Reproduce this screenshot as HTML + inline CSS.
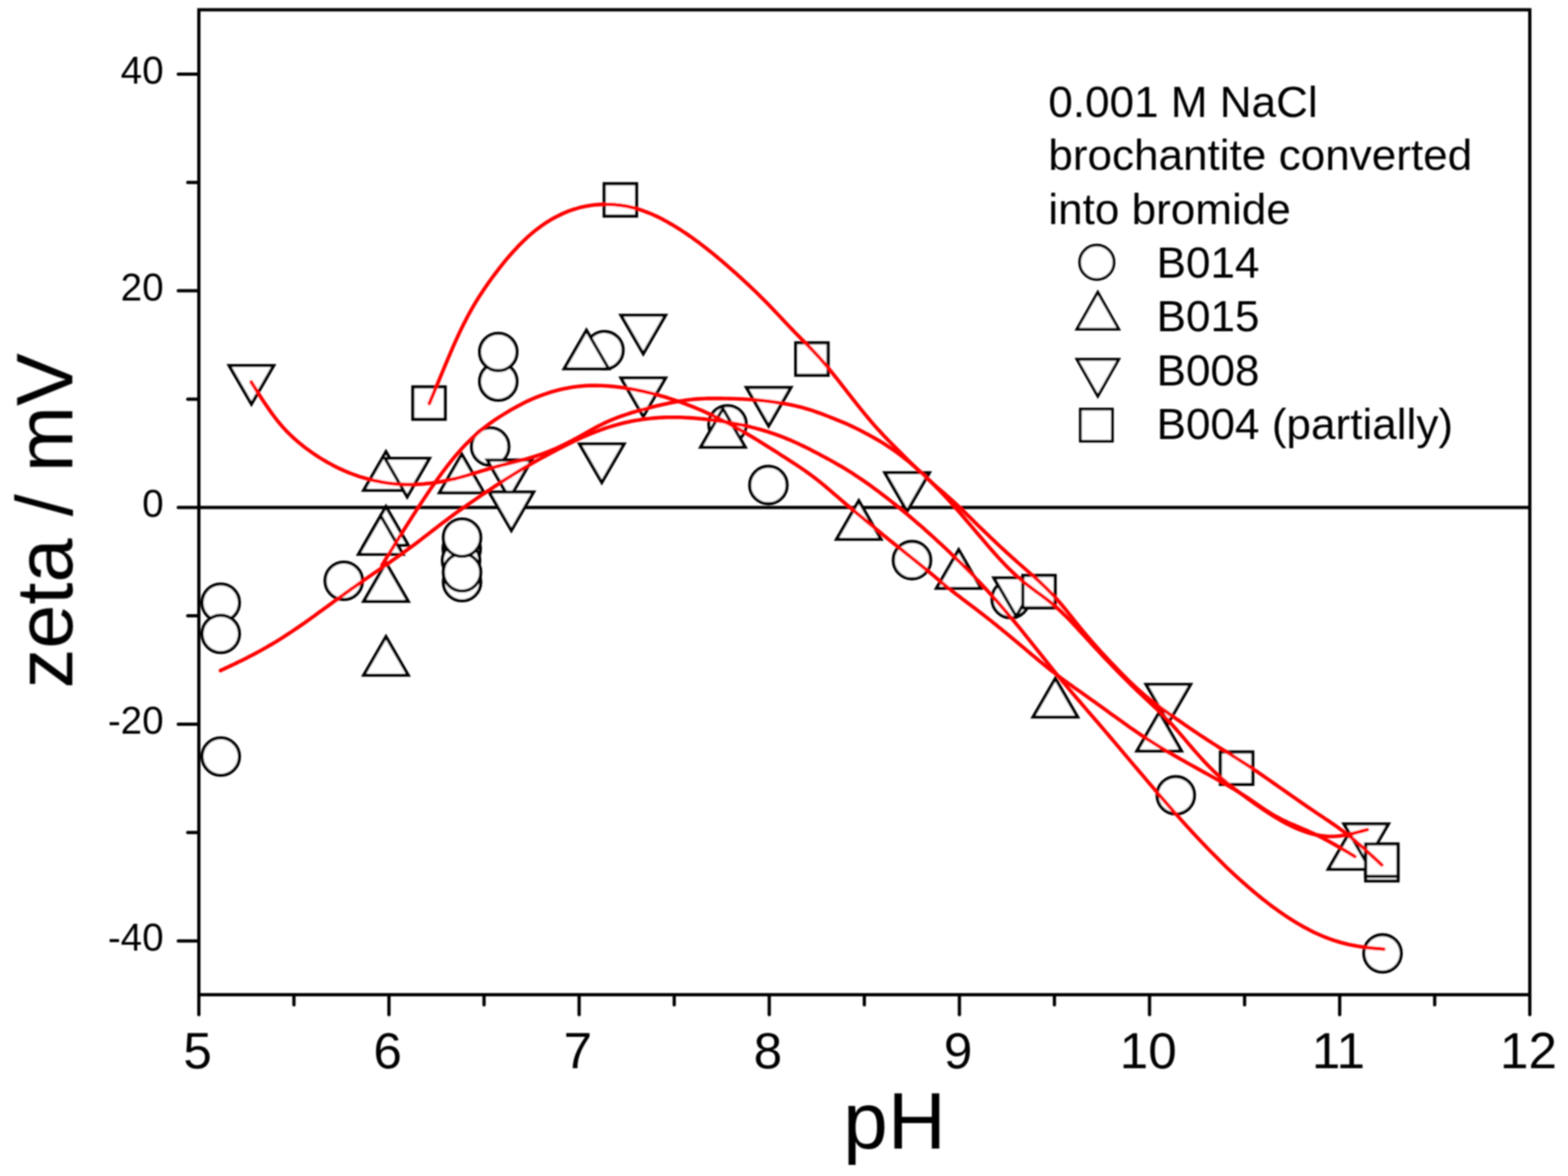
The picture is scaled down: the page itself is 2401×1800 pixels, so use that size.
<!DOCTYPE html>
<html><head><meta charset="utf-8"><title>zeta potential vs pH</title>
<style>html,body{margin:0;padding:0;background:#fff;}body{width:2401px;height:1800px;overflow:hidden;}svg{display:block;}text{font-family:"Liberation Sans",Arial,sans-serif;fill:#000;}</style></head><body>
<svg width="2401" height="1800" viewBox="0 0 2401 1800">
<defs><filter id="soft" x="0" y="0" width="2401" height="1800" filterUnits="userSpaceOnUse"><feGaussianBlur stdDeviation="1"/></filter></defs>
<rect x="0" y="0" width="2401" height="1800" fill="#fff"/>
<g filter="url(#soft)">
<line x1="304.5" y1="776.8" x2="2342.5" y2="776.8" stroke="#000" stroke-width="5"/>
<g fill="#fff" stroke="#000" stroke-width="4.9" stroke-linejoin="miter">
<circle cx="338" cy="922.5" r="28.6"/>
<circle cx="338" cy="970.3" r="28.6"/>
<circle cx="338" cy="1158" r="28.6"/>
<circle cx="526.4" cy="889" r="28.6"/>
<circle cx="707" cy="840" r="28.6"/>
<circle cx="706" cy="858" r="28.6"/>
<circle cx="707.5" cy="891" r="28.6"/>
<circle cx="707.5" cy="876" r="28.6"/>
<circle cx="707.5" cy="823" r="28.6"/>
<circle cx="750.6" cy="683.5" r="28.6"/>
<circle cx="763" cy="584" r="28.6"/>
<circle cx="763" cy="538.7" r="28.6"/>
<circle cx="925.5" cy="536" r="28.6"/>
<circle cx="1114" cy="649.5" r="28.6"/>
<circle cx="1176.6" cy="742.4" r="28.6"/>
<circle cx="1396.5" cy="857.4" r="28.6"/>
<circle cx="1547.6" cy="917" r="28.6"/>
<circle cx="1800.4" cy="1217.3" r="28.6"/>
<circle cx="2117" cy="1459.3" r="28.6"/>
<path d="M591.0,691.6 L625.0,750.4 L557.0,750.4 Z"/>
<path d="M591.0,775.6 L625.0,834.4 L557.0,834.4 Z"/>
<path d="M583.0,789.6 L617.0,848.4 L549.0,848.4 Z"/>
<path d="M591.0,861.6 L625.0,920.4 L557.0,920.4 Z"/>
<path d="M591.0,974.6 L625.0,1033.4 L557.0,1033.4 Z"/>
<path d="M707.0,695.3 L741.0,754.1 L673.0,754.1 Z"/>
<path d="M898.0,505.6 L932.0,564.4 L864.0,564.4 Z"/>
<path d="M1107.0,625.6 L1141.0,684.4 L1073.0,684.4 Z"/>
<path d="M1315.0,766.6 L1349.0,825.4 L1281.0,825.4 Z"/>
<path d="M1468.0,841.6 L1502.0,900.4 L1434.0,900.4 Z"/>
<path d="M1616.0,1038.6 L1650.0,1097.4 L1582.0,1097.4 Z"/>
<path d="M1775.0,1090.6 L1809.0,1149.4 L1741.0,1149.4 Z"/>
<path d="M2068.0,1271.6 L2102.0,1330.4 L2034.0,1330.4 Z"/>
<path d="M351.0,559.6 L419.0,559.6 L385.0,618.4 Z"/>
<path d="M589.5,701.6 L657.5,701.6 L623.5,760.4 Z"/>
<path d="M746.0,704.1 L814.0,704.1 L780.0,762.9 Z"/>
<path d="M749.0,753.1 L817.0,753.1 L783.0,811.9 Z"/>
<path d="M887.5,679.6 L955.5,679.6 L921.5,738.4 Z"/>
<path d="M951.0,482.6 L1019.0,482.6 L985.0,541.4 Z"/>
<path d="M951.0,578.6 L1019.0,578.6 L985.0,637.4 Z"/>
<path d="M1143.0,593.1 L1211.0,593.1 L1177.0,651.9 Z"/>
<path d="M1355.0,723.6 L1423.0,723.6 L1389.0,782.4 Z"/>
<path d="M1522.0,884.6 L1590.0,884.6 L1556.0,943.4 Z"/>
<path d="M1755.0,1047.6 L1823.0,1047.6 L1789.0,1106.4 Z"/>
<path d="M2058.0,1261.1 L2126.0,1261.1 L2092.0,1319.9 Z"/>
<rect x="632.2" y="592.2" width="49.5" height="49.5"/>
<rect x="925.2" y="281.2" width="49.5" height="49.5"/>
<rect x="1218.5" y="524.8" width="49.5" height="49.5"/>
<rect x="1566.2" y="880.8" width="49.5" height="49.5"/>
<rect x="1868.8" y="1151.0" width="49.5" height="49.5"/>
<rect x="2091.2" y="1298.8" width="49.5" height="49.5"/>
<rect x="2091.2" y="1291.8" width="49.5" height="49.5"/>
</g>
<g fill="none" stroke="#ff0000" stroke-width="5.6" stroke-linecap="round" stroke-linejoin="round">
<path d="M337.6,1026.4 L341.6,1024.5 L345.6,1022.6 L349.6,1020.8 L353.6,1018.9 L357.6,1017.0 L361.6,1015.1 L365.6,1013.1 L369.6,1011.2 L373.6,1009.2 L377.6,1007.2 L381.6,1005.1 L385.6,1003.0 L389.6,1000.9 L393.6,998.8 L397.6,996.6 L401.6,994.4 L405.6,992.1 L409.6,989.9 L413.6,987.5 L417.6,985.2 L421.6,982.8 L425.6,980.3 L429.6,977.8 L433.6,975.3 L437.6,972.7 L441.6,970.1 L445.6,967.5 L449.6,964.8 L453.6,962.1 L457.6,959.4 L461.6,956.6 L465.6,953.9 L469.6,951.0 L473.6,948.2 L477.6,945.3 L481.6,942.5 L485.6,939.6 L489.6,936.6 L493.6,933.7 L497.6,930.8 L501.6,927.9 L505.6,924.9 L509.6,922.0 L513.6,919.1 L517.6,916.2 L521.6,913.3 L525.6,910.4 L529.6,907.5 L533.6,904.7 L537.6,901.8 L541.6,899.0 L545.6,896.2 L549.6,893.4 L553.6,890.6 L557.6,887.8 L561.6,885.0 L565.6,882.3 L569.6,879.5 L573.6,876.7 L577.6,874.0 L581.6,871.2 L585.6,868.4 L589.6,865.7 L593.6,862.9 L597.6,860.1 L601.6,857.3 L605.6,854.5 L609.6,851.7 L613.6,848.8 L617.6,846.0 L621.6,843.1 L625.6,840.1 L629.6,837.2 L633.6,834.2 L637.6,831.2 L641.6,828.2 L645.6,825.1 L649.6,822.1 L653.6,819.0 L657.6,815.9 L661.6,812.8 L665.6,809.7 L669.6,806.6 L673.6,803.6 L677.6,800.5 L681.6,797.5 L685.6,794.5 L689.6,791.5 L693.6,788.5 L697.6,785.6 L701.6,782.7 L705.6,779.9 L709.6,777.1 L713.6,774.3 L717.6,771.5 L721.6,768.7 L725.6,766.0 L729.6,763.3 L733.6,760.5 L737.6,757.8 L741.6,755.1 L745.6,752.4 L749.6,749.7 L753.6,747.1 L757.6,744.4 L761.6,741.8 L765.6,739.2 L769.6,736.6 L773.6,734.0 L777.6,731.5 L781.6,729.0 L785.6,726.5 L789.6,724.0 L793.6,721.6 L797.6,719.1 L801.6,716.8 L805.6,714.4 L809.6,712.1 L813.6,709.8 L817.6,707.5 L821.6,705.3 L825.6,703.1 L829.6,700.9 L833.6,698.7 L837.6,696.5 L841.6,694.4 L845.6,692.3 L849.6,690.2 L853.6,688.1 L857.6,686.0 L861.6,683.9 L865.6,681.9 L869.6,679.9 L873.6,677.9 L877.6,675.9 L881.6,674.0 L885.6,672.1 L889.6,670.3 L893.6,668.5 L897.6,666.8 L901.6,665.1 L905.6,663.4 L909.6,661.8 L913.6,660.3 L917.6,658.8 L921.6,657.4 L925.6,656.0 L929.6,654.6 L933.6,653.4 L937.6,652.1 L941.6,651.0 L945.6,649.9 L949.6,648.8 L953.6,647.8 L957.6,646.8 L961.6,645.9 L965.6,645.1 L969.6,644.3 L973.6,643.5 L977.6,642.9 L981.6,642.2 L985.6,641.6 L989.6,641.1 L993.6,640.7 L997.6,640.2 L1001.6,639.9 L1005.6,639.6 L1009.6,639.3 L1013.6,639.1 L1017.6,638.9 L1021.6,638.8 L1025.6,638.7 L1029.6,638.7 L1033.6,638.7 L1037.6,638.7 L1041.6,638.8 L1045.6,639.0 L1049.6,639.2 L1053.6,639.4 L1057.6,639.6 L1061.6,639.9 L1065.6,640.2 L1069.6,640.6 L1073.6,641.0 L1077.6,641.4 L1081.6,641.8 L1085.6,642.3 L1089.6,642.8 L1093.6,643.3 L1097.6,643.9 L1101.6,644.4 L1105.6,645.0 L1109.6,645.7 L1113.6,646.3 L1117.6,647.0 L1121.6,647.7 L1125.6,648.4 L1129.6,649.2 L1133.6,650.0 L1137.6,650.8 L1141.6,651.7 L1145.6,652.6 L1149.6,653.6 L1153.6,654.6 L1157.6,655.6 L1161.6,656.7 L1165.6,657.8 L1169.6,659.0 L1173.6,660.2 L1177.6,661.5 L1181.6,662.8 L1185.6,664.2 L1189.6,665.6 L1193.6,667.0 L1197.6,668.6 L1201.6,670.1 L1205.6,671.8 L1209.6,673.4 L1213.6,675.2 L1217.6,677.0 L1221.6,678.8 L1225.6,680.7 L1229.6,682.6 L1233.6,684.6 L1237.6,686.6 L1241.6,688.6 L1245.6,690.7 L1249.6,692.7 L1253.6,694.8 L1257.6,696.9 L1261.6,699.1 L1265.6,701.2 L1269.6,703.4 L1273.6,705.6 L1277.6,707.9 L1281.6,710.2 L1285.6,712.5 L1289.6,714.8 L1293.6,717.2 L1297.6,719.7 L1301.6,722.2 L1305.6,724.7 L1309.6,727.3 L1313.6,730.0 L1317.6,732.6 L1321.6,735.4 L1325.6,738.1 L1329.6,740.9 L1333.6,743.8 L1337.6,746.7 L1341.6,749.7 L1345.6,752.6 L1349.6,755.7 L1353.6,758.7 L1357.6,761.8 L1361.6,764.9 L1365.6,768.1 L1369.6,771.3 L1373.6,774.5 L1377.6,777.7 L1381.6,781.0 L1385.6,784.3 L1389.6,787.6 L1393.6,791.0 L1397.6,794.4 L1401.6,797.8 L1405.6,801.3 L1409.6,804.7 L1413.6,808.2 L1417.6,811.8 L1421.6,815.3 L1425.6,818.9 L1429.6,822.5 L1433.6,826.2 L1437.6,829.8 L1441.6,833.5 L1445.6,837.3 L1449.6,841.0 L1453.6,844.8 L1457.6,848.7 L1461.6,852.5 L1465.6,856.4 L1469.6,860.3 L1473.6,864.3 L1477.6,868.3 L1481.6,872.3 L1485.6,876.3 L1489.6,880.4 L1493.6,884.6 L1497.6,888.7 L1501.6,893.0 L1505.6,897.2 L1509.6,901.5 L1513.6,905.9 L1517.6,910.3 L1521.6,914.7 L1525.6,919.2 L1529.6,923.7 L1533.6,928.3 L1537.6,933.0 L1541.6,937.6 L1545.6,942.3 L1549.6,947.1 L1553.6,951.9 L1557.6,956.7 L1561.6,961.6 L1565.6,966.5 L1569.6,971.5 L1573.6,976.4 L1577.6,981.4 L1581.6,986.5 L1585.6,991.5 L1589.6,996.5 L1593.6,1001.6 L1597.6,1006.6 L1601.6,1011.6 L1605.6,1016.6 L1609.6,1021.6 L1613.6,1026.5 L1617.6,1031.5 L1621.6,1036.3 L1625.6,1041.2 L1629.6,1046.0 L1633.6,1050.7 L1637.6,1055.5 L1641.6,1060.2 L1645.6,1064.9 L1649.6,1069.6 L1653.6,1074.2 L1657.6,1078.9 L1661.6,1083.5 L1665.6,1088.2 L1669.6,1092.8 L1673.6,1097.4 L1677.6,1102.1 L1681.6,1106.7 L1685.6,1111.3 L1689.6,1116.0 L1693.6,1120.7 L1697.6,1125.4 L1701.6,1130.1 L1705.6,1134.8 L1709.6,1139.5 L1713.6,1144.3 L1717.6,1149.0 L1721.6,1153.8 L1725.6,1158.5 L1729.6,1163.3 L1733.6,1168.0 L1737.6,1172.7 L1741.6,1177.4 L1745.6,1182.1 L1749.6,1186.8 L1753.6,1191.5 L1757.6,1196.2 L1761.6,1200.9 L1765.6,1205.5 L1769.6,1210.2 L1773.6,1214.8 L1777.6,1219.5 L1781.6,1224.1 L1785.6,1228.7 L1789.6,1233.3 L1793.6,1237.9 L1797.6,1242.5 L1801.6,1247.0 L1805.6,1251.5 L1809.6,1256.0 L1813.6,1260.4 L1817.6,1264.8 L1821.6,1269.2 L1825.6,1273.6 L1829.6,1277.9 L1833.6,1282.2 L1837.6,1286.4 L1841.6,1290.6 L1845.6,1294.8 L1849.6,1298.9 L1853.6,1303.1 L1857.6,1307.1 L1861.6,1311.1 L1865.6,1315.1 L1869.6,1319.1 L1873.6,1323.0 L1877.6,1326.9 L1881.6,1330.7 L1885.6,1334.5 L1889.6,1338.2 L1893.6,1341.9 L1897.6,1345.5 L1901.6,1349.1 L1905.6,1352.7 L1909.6,1356.2 L1913.6,1359.6 L1917.6,1363.0 L1921.6,1366.4 L1925.6,1369.7 L1929.6,1373.0 L1933.6,1376.2 L1937.6,1379.3 L1941.6,1382.4 L1945.6,1385.4 L1949.6,1388.4 L1953.6,1391.3 L1957.6,1394.2 L1961.6,1397.0 L1965.6,1399.8 L1969.6,1402.5 L1973.6,1405.1 L1977.6,1407.7 L1981.6,1410.2 L1985.6,1412.6 L1989.6,1414.9 L1993.6,1417.2 L1997.6,1419.5 L2001.6,1421.6 L2005.6,1423.7 L2009.6,1425.7 L2013.6,1427.7 L2017.6,1429.5 L2021.6,1431.3 L2025.6,1433.0 L2029.6,1434.6 L2033.6,1436.2 L2037.6,1437.6 L2041.6,1439.0 L2045.6,1440.3 L2049.6,1441.5 L2053.6,1442.7 L2057.6,1443.7 L2061.6,1444.7 L2065.6,1445.7 L2069.6,1446.5 L2073.6,1447.3 L2077.6,1448.1 L2081.6,1448.7 L2085.6,1449.3 L2089.6,1449.9 L2093.6,1450.4 L2097.6,1450.8 L2101.6,1451.2 L2105.6,1451.6 L2109.6,1451.9 L2113.6,1452.2 L2117.6,1452.6 L2118.9,1452.7"/>
<path d="M585.0,865.0 L589.0,858.5 L593.0,851.9 L597.0,845.4 L601.0,839.0 L605.0,832.5 L609.0,826.1 L613.0,819.7 L617.0,813.4 L621.0,807.0 L625.0,800.7 L629.0,794.5 L633.0,788.2 L637.0,782.0 L641.0,775.8 L645.0,769.7 L649.0,763.7 L653.0,757.7 L657.0,751.8 L661.0,746.0 L665.0,740.3 L669.0,734.6 L673.0,729.1 L677.0,723.7 L681.0,718.3 L685.0,713.1 L689.0,708.0 L693.0,703.1 L697.0,698.3 L701.0,693.6 L705.0,689.1 L709.0,684.7 L713.0,680.4 L717.0,676.4 L721.0,672.4 L725.0,668.7 L729.0,665.0 L733.0,661.5 L737.0,658.2 L741.0,655.0 L745.0,651.9 L749.0,648.9 L753.0,646.1 L757.0,643.3 L761.0,640.6 L765.0,638.0 L769.0,635.5 L773.0,633.0 L777.0,630.6 L781.0,628.2 L785.0,625.9 L789.0,623.7 L793.0,621.5 L797.0,619.4 L801.0,617.3 L805.0,615.3 L809.0,613.4 L813.0,611.6 L817.0,609.8 L821.0,608.2 L825.0,606.6 L829.0,605.1 L833.0,603.6 L837.0,602.3 L841.0,601.0 L845.0,599.7 L849.0,598.6 L853.0,597.5 L857.0,596.5 L861.0,595.6 L865.0,594.7 L869.0,593.9 L873.0,593.2 L877.0,592.5 L881.0,592.0 L885.0,591.5 L889.0,591.1 L893.0,590.7 L897.0,590.4 L901.0,590.3 L905.0,590.1 L909.0,590.1 L913.0,590.1 L917.0,590.2 L921.0,590.3 L925.0,590.5 L929.0,590.7 L933.0,591.0 L937.0,591.4 L941.0,591.8 L945.0,592.2 L949.0,592.7 L953.0,593.3 L957.0,593.8 L961.0,594.5 L965.0,595.1 L969.0,595.8 L973.0,596.6 L977.0,597.4 L981.0,598.2 L985.0,599.1 L989.0,600.0 L993.0,600.9 L997.0,601.9 L1001.0,602.9 L1005.0,603.9 L1009.0,605.0 L1013.0,606.2 L1017.0,607.3 L1021.0,608.5 L1025.0,609.8 L1029.0,611.1 L1033.0,612.4 L1037.0,613.7 L1041.0,615.1 L1045.0,616.6 L1049.0,618.0 L1053.0,619.6 L1057.0,621.1 L1061.0,622.7 L1065.0,624.3 L1069.0,626.0 L1073.0,627.7 L1077.0,629.4 L1081.0,631.2 L1085.0,633.1 L1089.0,634.9 L1093.0,636.8 L1097.0,638.8 L1101.0,640.7 L1105.0,642.8 L1109.0,644.8 L1113.0,646.9 L1117.0,649.0 L1121.0,651.2 L1125.0,653.3 L1129.0,655.6 L1133.0,657.8 L1137.0,660.1 L1141.0,662.4 L1145.0,664.7 L1149.0,667.1 L1153.0,669.5 L1157.0,671.9 L1161.0,674.3 L1165.0,676.8 L1169.0,679.3 L1173.0,681.8 L1177.0,684.3 L1181.0,686.8 L1185.0,689.4 L1189.0,691.9 L1193.0,694.5 L1197.0,697.1 L1201.0,699.6 L1205.0,702.2 L1209.0,704.8 L1213.0,707.4 L1217.0,710.0 L1221.0,712.6 L1225.0,715.3 L1229.0,718.0 L1233.0,720.8 L1237.0,723.6 L1241.0,726.5 L1245.0,729.5 L1249.0,732.5 L1253.0,735.6 L1257.0,738.9 L1261.0,742.2 L1265.0,745.5 L1269.0,748.9 L1273.0,752.3 L1277.0,755.8 L1281.0,759.2 L1285.0,762.6 L1289.0,766.1 L1293.0,769.5 L1297.0,772.8 L1301.0,776.2 L1305.0,779.6 L1309.0,782.9 L1313.0,786.3 L1317.0,789.6 L1321.0,792.9 L1325.0,796.3 L1329.0,799.6 L1333.0,802.9 L1337.0,806.2 L1341.0,809.5 L1345.0,812.7 L1349.0,816.0 L1353.0,819.3 L1357.0,822.5 L1361.0,825.8 L1365.0,829.0 L1369.0,832.2 L1373.0,835.4 L1377.0,838.6 L1381.0,841.8 L1385.0,845.0 L1389.0,848.2 L1393.0,851.4 L1397.0,854.6 L1401.0,857.8 L1405.0,861.0 L1409.0,864.2 L1413.0,867.5 L1417.0,870.7 L1421.0,874.0 L1425.0,877.4 L1429.0,880.7 L1433.0,884.1 L1437.0,887.4 L1441.0,890.8 L1445.0,894.1 L1449.0,897.4 L1453.0,900.6 L1457.0,903.8 L1461.0,907.0 L1465.0,910.1 L1469.0,913.1 L1473.0,916.2 L1477.0,919.2 L1481.0,922.3 L1485.0,925.3 L1489.0,928.3 L1493.0,931.3 L1497.0,934.4 L1501.0,937.4 L1505.0,940.5 L1509.0,943.6 L1513.0,946.8 L1517.0,949.9 L1521.0,953.1 L1525.0,956.3 L1529.0,959.6 L1533.0,962.8 L1537.0,966.1 L1541.0,969.4 L1545.0,972.7 L1549.0,976.0 L1553.0,979.3 L1557.0,982.6 L1561.0,986.0 L1565.0,989.4 L1569.0,992.7 L1573.0,996.1 L1577.0,999.5 L1581.0,1002.8 L1585.0,1006.1 L1589.0,1009.5 L1593.0,1012.8 L1597.0,1016.1 L1601.0,1019.3 L1605.0,1022.5 L1609.0,1025.7 L1613.0,1028.8 L1617.0,1031.9 L1621.0,1034.9 L1625.0,1037.9 L1629.0,1040.9 L1633.0,1043.8 L1637.0,1046.7 L1641.0,1049.5 L1645.0,1052.4 L1649.0,1055.2 L1653.0,1058.0 L1657.0,1060.8 L1661.0,1063.7 L1665.0,1066.5 L1669.0,1069.4 L1673.0,1072.2 L1677.0,1075.1 L1681.0,1078.0 L1685.0,1080.8 L1689.0,1083.7 L1693.0,1086.6 L1697.0,1089.5 L1701.0,1092.4 L1705.0,1095.2 L1709.0,1098.1 L1713.0,1101.0 L1717.0,1103.8 L1721.0,1106.7 L1725.0,1109.5 L1729.0,1112.4 L1733.0,1115.2 L1737.0,1117.9 L1741.0,1120.7 L1745.0,1123.4 L1749.0,1126.1 L1753.0,1128.7 L1757.0,1131.3 L1761.0,1133.9 L1765.0,1136.4 L1769.0,1138.9 L1773.0,1141.4 L1777.0,1143.8 L1781.0,1146.2 L1785.0,1148.6 L1789.0,1151.0 L1793.0,1153.4 L1797.0,1155.7 L1801.0,1158.0 L1805.0,1160.3 L1809.0,1162.6 L1813.0,1164.8 L1817.0,1167.1 L1821.0,1169.4 L1825.0,1171.6 L1829.0,1173.8 L1833.0,1176.0 L1837.0,1178.3 L1841.0,1180.5 L1845.0,1182.7 L1849.0,1184.9 L1853.0,1187.1 L1857.0,1189.4 L1861.0,1191.6 L1865.0,1193.8 L1869.0,1196.1 L1873.0,1198.3 L1877.0,1200.6 L1881.0,1202.9 L1885.0,1205.3 L1889.0,1207.6 L1893.0,1210.0 L1897.0,1212.5 L1901.0,1215.0 L1905.0,1217.5 L1909.0,1220.1 L1913.0,1222.8 L1917.0,1225.5 L1921.0,1228.3 L1925.0,1231.0 L1929.0,1233.8 L1933.0,1236.5 L1937.0,1239.2 L1941.0,1241.8 L1945.0,1244.4 L1949.0,1246.8 L1953.0,1249.1 L1957.0,1251.3 L1961.0,1253.4 L1965.0,1255.4 L1969.0,1257.3 L1973.0,1259.2 L1977.0,1261.0 L1981.0,1262.7 L1985.0,1264.4 L1989.0,1266.1 L1993.0,1267.8 L1997.0,1269.5 L2001.0,1271.2 L2005.0,1273.0 L2009.0,1274.8 L2013.0,1276.6 L2017.0,1278.5 L2021.0,1280.5 L2025.0,1282.6 L2029.0,1284.7 L2033.0,1286.8 L2037.0,1289.0 L2041.0,1291.2 L2045.0,1293.5 L2049.0,1295.8 L2053.0,1298.1 L2057.0,1300.5 L2061.0,1302.8 L2065.0,1305.2 L2069.0,1307.6 L2073.0,1310.0 L2074.6,1311.0"/>
<path d="M384.7,584.7 L388.7,591.1 L392.7,597.4 L396.7,603.7 L400.7,609.9 L404.7,616.0 L408.7,621.9 L412.7,627.7 L416.7,633.3 L420.7,638.6 L424.7,643.8 L428.7,648.6 L432.7,653.3 L436.7,657.7 L440.7,661.8 L444.7,665.8 L448.7,669.6 L452.7,673.2 L456.7,676.6 L460.7,679.9 L464.7,683.1 L468.7,686.2 L472.7,689.1 L476.7,692.0 L480.7,694.7 L484.7,697.4 L488.7,700.0 L492.7,702.5 L496.7,704.9 L500.7,707.2 L504.7,709.4 L508.7,711.6 L512.7,713.7 L516.7,715.7 L520.7,717.6 L524.7,719.4 L528.7,721.2 L532.7,722.9 L536.7,724.5 L540.7,726.0 L544.7,727.4 L548.7,728.8 L552.7,730.1 L556.7,731.3 L560.7,732.4 L564.7,733.5 L568.7,734.5 L572.7,735.4 L576.7,736.3 L580.7,737.1 L584.7,737.9 L588.7,738.6 L592.7,739.2 L596.7,739.7 L600.7,740.2 L604.7,740.6 L608.7,741.0 L612.7,741.2 L616.7,741.4 L620.7,741.6 L624.7,741.6 L628.7,741.6 L632.7,741.6 L636.7,741.4 L640.7,741.3 L644.7,741.0 L648.7,740.7 L652.7,740.3 L656.7,739.9 L660.7,739.5 L664.7,738.9 L668.7,738.3 L672.7,737.7 L676.7,737.0 L680.7,736.2 L684.7,735.4 L688.7,734.5 L692.7,733.6 L696.7,732.7 L700.7,731.6 L704.7,730.6 L708.7,729.5 L712.7,728.4 L716.7,727.2 L720.7,726.0 L724.7,724.8 L728.7,723.6 L732.7,722.4 L736.7,721.1 L740.7,719.9 L744.7,718.7 L748.7,717.5 L752.7,716.3 L756.7,715.1 L760.7,714.0 L764.7,713.0 L768.7,711.9 L772.7,710.9 L776.7,710.0 L780.7,709.0 L784.7,708.0 L788.7,707.0 L792.7,706.0 L796.7,705.0 L800.7,704.0 L804.7,702.9 L808.7,701.7 L812.7,700.5 L816.7,699.3 L820.7,698.0 L824.7,696.7 L828.7,695.3 L832.7,693.9 L836.7,692.4 L840.7,690.8 L844.7,689.2 L848.7,687.5 L852.7,685.7 L856.7,683.9 L860.7,682.0 L864.7,680.0 L868.7,678.0 L872.7,676.0 L876.7,673.9 L880.7,671.8 L884.7,669.6 L888.7,667.4 L892.7,665.2 L896.7,663.0 L900.7,660.7 L904.7,658.5 L908.7,656.2 L912.7,654.0 L916.7,651.9 L920.7,649.9 L924.7,647.9 L928.7,646.1 L932.7,644.3 L936.7,642.6 L940.7,641.0 L944.7,639.4 L948.7,637.9 L952.7,636.5 L956.7,635.1 L960.7,633.8 L964.7,632.5 L968.7,631.3 L972.7,630.1 L976.7,628.9 L980.7,627.8 L984.7,626.6 L988.7,625.6 L992.7,624.5 L996.7,623.5 L1000.7,622.5 L1004.7,621.5 L1008.7,620.6 L1012.7,619.7 L1016.7,618.8 L1020.7,617.9 L1024.7,617.1 L1028.7,616.3 L1032.7,615.5 L1036.7,614.8 L1040.7,614.1 L1044.7,613.4 L1048.7,612.8 L1052.7,612.3 L1056.7,611.8 L1060.7,611.3 L1064.7,610.9 L1068.7,610.6 L1072.7,610.4 L1076.7,610.2 L1080.7,610.0 L1084.7,609.9 L1088.7,609.9 L1092.7,609.9 L1096.7,609.9 L1100.7,609.9 L1104.7,609.9 L1108.7,610.0 L1112.7,610.0 L1116.7,610.1 L1120.7,610.2 L1124.7,610.3 L1128.7,610.5 L1132.7,610.6 L1136.7,610.8 L1140.7,611.0 L1144.7,611.3 L1148.7,611.5 L1152.7,611.8 L1156.7,612.1 L1160.7,612.5 L1164.7,612.9 L1168.7,613.3 L1172.7,613.8 L1176.7,614.2 L1180.7,614.8 L1184.7,615.3 L1188.7,615.9 L1192.7,616.5 L1196.7,617.1 L1200.7,617.8 L1204.7,618.5 L1208.7,619.3 L1212.7,620.1 L1216.7,620.9 L1220.7,621.9 L1224.7,622.8 L1228.7,623.9 L1232.7,625.0 L1236.7,626.2 L1240.7,627.4 L1244.7,628.7 L1248.7,630.1 L1252.7,631.5 L1256.7,632.9 L1260.7,634.4 L1264.7,636.0 L1268.7,637.5 L1272.7,639.1 L1276.7,640.7 L1280.7,642.3 L1284.7,643.9 L1288.7,645.6 L1292.7,647.2 L1296.7,648.9 L1300.7,650.7 L1304.7,652.6 L1308.7,654.5 L1312.7,656.5 L1316.7,658.5 L1320.7,660.6 L1324.7,662.7 L1328.7,664.8 L1332.7,667.0 L1336.7,669.2 L1340.7,671.5 L1344.7,673.8 L1348.7,676.2 L1352.7,678.6 L1356.7,681.2 L1360.7,683.8 L1364.7,686.5 L1368.7,689.3 L1372.7,692.1 L1376.7,695.1 L1380.7,698.1 L1384.7,701.2 L1388.7,704.4 L1392.7,707.7 L1396.7,711.1 L1400.7,714.5 L1404.7,718.1 L1408.7,721.7 L1412.7,725.3 L1416.7,729.1 L1420.7,732.9 L1424.7,736.7 L1428.7,740.7 L1432.7,744.7 L1436.7,748.8 L1440.7,752.9 L1444.7,757.1 L1448.7,761.4 L1452.7,765.7 L1456.7,770.1 L1460.7,774.6 L1464.7,779.1 L1468.7,783.6 L1472.7,788.2 L1476.7,792.9 L1480.7,797.6 L1484.7,802.3 L1488.7,807.0 L1492.7,811.7 L1496.7,816.4 L1500.7,821.1 L1504.7,825.8 L1508.7,830.5 L1512.7,835.2 L1516.7,839.8 L1520.7,844.4 L1524.7,848.9 L1528.7,853.3 L1532.7,857.7 L1536.7,861.9 L1540.7,866.1 L1544.7,870.2 L1548.7,874.1 L1552.7,877.9 L1556.7,881.6 L1560.7,885.1 L1564.7,888.5 L1568.7,891.8 L1572.7,894.9 L1576.7,898.0 L1580.7,901.0 L1584.7,903.9 L1588.7,906.9 L1592.7,909.8 L1596.7,912.8 L1600.7,915.8 L1604.7,918.8 L1608.7,922.0 L1612.7,925.3 L1616.7,928.7 L1620.7,932.3 L1624.7,936.0 L1628.7,939.9 L1632.7,943.8 L1636.7,947.9 L1640.7,952.1 L1644.7,956.3 L1648.7,960.6 L1652.7,965.0 L1656.7,969.3 L1660.7,973.7 L1664.7,978.1 L1668.7,982.4 L1672.7,986.8 L1676.7,991.1 L1680.7,995.4 L1684.7,999.7 L1688.7,1004.0 L1692.7,1008.2 L1696.7,1012.4 L1700.7,1016.6 L1704.7,1020.8 L1708.7,1024.9 L1712.7,1029.0 L1716.7,1033.1 L1720.7,1037.1 L1724.7,1041.1 L1728.7,1045.0 L1732.7,1048.9 L1736.7,1052.8 L1740.7,1056.6 L1744.7,1060.5 L1748.7,1064.2 L1752.7,1068.0 L1756.7,1071.7 L1760.7,1075.4 L1764.7,1079.1 L1768.7,1082.9 L1772.7,1086.7 L1776.7,1090.6 L1780.7,1094.5 L1784.7,1098.6 L1788.7,1102.7 L1792.7,1107.0 L1796.7,1111.4 L1800.7,1115.9 L1804.7,1120.5 L1808.7,1125.1 L1812.7,1129.8 L1816.7,1134.5 L1820.7,1139.2 L1824.7,1143.8 L1828.7,1148.5 L1832.7,1153.0 L1836.7,1157.5 L1840.7,1161.9 L1844.7,1166.3 L1848.7,1170.5 L1852.7,1174.6 L1856.7,1178.5 L1860.7,1182.4 L1864.7,1186.1 L1868.7,1189.6 L1872.7,1193.1 L1876.7,1196.5 L1880.7,1199.8 L1884.7,1203.0 L1888.7,1206.1 L1892.7,1209.2 L1896.7,1212.2 L1900.7,1215.2 L1904.7,1218.1 L1908.7,1221.0 L1912.7,1223.9 L1916.7,1226.8 L1920.7,1229.6 L1924.7,1232.4 L1928.7,1235.2 L1932.7,1237.9 L1936.7,1240.6 L1940.7,1243.3 L1944.7,1245.8 L1948.7,1248.4 L1952.7,1250.8 L1956.7,1253.2 L1960.7,1255.6 L1964.7,1257.8 L1968.7,1260.0 L1972.7,1262.1 L1976.7,1264.1 L1980.7,1266.0 L1984.7,1267.8 L1988.7,1269.5 L1992.7,1271.0 L1996.7,1272.5 L2000.7,1273.9 L2004.7,1275.1 L2008.7,1276.2 L2012.7,1277.2 L2016.7,1278.0 L2020.7,1278.8 L2024.7,1279.3 L2028.7,1279.8 L2032.7,1280.1 L2036.7,1280.2 L2040.7,1280.2 L2044.7,1280.0 L2048.7,1279.7 L2052.7,1279.3 L2056.7,1278.7 L2060.7,1278.0 L2064.7,1277.2 L2068.7,1276.3 L2072.7,1275.4 L2076.7,1274.4 L2080.7,1273.4 L2084.7,1272.3 L2088.7,1271.2 L2092.7,1270.1 L2093.6,1269.8"/>
<path d="M657.4,617.6 L661.4,608.0 L665.4,598.4 L669.4,588.8 L673.4,579.1 L677.4,569.5 L681.4,559.9 L685.4,550.4 L689.4,541.0 L693.4,531.7 L697.4,522.7 L701.4,513.9 L705.4,505.4 L709.4,497.3 L713.4,489.4 L717.4,481.8 L721.4,474.6 L725.4,467.7 L729.4,461.0 L733.4,454.6 L737.4,448.4 L741.4,442.4 L745.4,436.6 L749.4,430.9 L753.4,425.4 L757.4,420.0 L761.4,414.7 L765.4,409.5 L769.4,404.5 L773.4,399.6 L777.4,394.8 L781.4,390.2 L785.4,385.6 L789.4,381.3 L793.4,377.0 L797.4,372.9 L801.4,369.0 L805.4,365.2 L809.4,361.5 L813.4,358.0 L817.4,354.6 L821.4,351.4 L825.4,348.4 L829.4,345.5 L833.4,342.7 L837.4,340.1 L841.4,337.6 L845.4,335.2 L849.4,333.0 L853.4,330.9 L857.4,328.9 L861.4,327.1 L865.4,325.3 L869.4,323.7 L873.4,322.2 L877.4,320.8 L881.4,319.6 L885.4,318.4 L889.4,317.3 L893.4,316.4 L897.4,315.6 L901.4,314.9 L905.4,314.3 L909.4,313.8 L913.4,313.4 L917.4,313.1 L921.4,312.9 L925.4,312.8 L929.4,312.8 L933.4,312.8 L937.4,313.0 L941.4,313.3 L945.4,313.7 L949.4,314.1 L953.4,314.7 L957.4,315.3 L961.4,316.1 L965.4,317.0 L969.4,317.9 L973.4,319.0 L977.4,320.1 L981.4,321.4 L985.4,322.8 L989.4,324.3 L993.4,325.9 L997.4,327.5 L1001.4,329.3 L1005.4,331.1 L1009.4,333.1 L1013.4,335.1 L1017.4,337.2 L1021.4,339.4 L1025.4,341.7 L1029.4,344.0 L1033.4,346.4 L1037.4,348.9 L1041.4,351.4 L1045.4,354.0 L1049.4,356.6 L1053.4,359.4 L1057.4,362.1 L1061.4,365.0 L1065.4,367.9 L1069.4,370.8 L1073.4,373.9 L1077.4,376.9 L1081.4,380.0 L1085.4,383.2 L1089.4,386.4 L1093.4,389.7 L1097.4,393.0 L1101.4,396.3 L1105.4,399.7 L1109.4,403.1 L1113.4,406.6 L1117.4,410.1 L1121.4,413.6 L1125.4,417.2 L1129.4,420.7 L1133.4,424.4 L1137.4,428.0 L1141.4,431.7 L1145.4,435.4 L1149.4,439.2 L1153.4,443.0 L1157.4,446.8 L1161.4,450.7 L1165.4,454.7 L1169.4,458.7 L1173.4,462.7 L1177.4,466.8 L1181.4,471.0 L1185.4,475.2 L1189.4,479.4 L1193.4,483.7 L1197.4,487.9 L1201.4,492.2 L1205.4,496.4 L1209.4,500.6 L1213.4,504.8 L1217.4,508.9 L1221.4,513.0 L1225.4,517.0 L1229.4,521.0 L1233.4,525.0 L1237.4,529.1 L1241.4,533.2 L1245.4,537.4 L1249.4,541.7 L1253.4,546.0 L1257.4,550.5 L1261.4,555.1 L1265.4,559.8 L1269.4,564.6 L1273.4,569.5 L1277.4,574.5 L1281.4,579.5 L1285.4,584.6 L1289.4,589.7 L1293.4,594.8 L1297.4,600.0 L1301.4,605.1 L1305.4,610.2 L1309.4,615.2 L1313.4,620.3 L1317.4,625.3 L1321.4,630.2 L1325.4,635.1 L1329.4,639.9 L1333.4,644.6 L1337.4,649.3 L1341.4,653.8 L1345.4,658.2 L1349.4,662.5 L1353.4,666.8 L1357.4,671.0 L1361.4,675.1 L1365.4,679.2 L1369.4,683.3 L1373.4,687.3 L1377.4,691.3 L1381.4,695.3 L1385.4,699.3 L1389.4,703.2 L1393.4,707.2 L1397.4,711.1 L1401.4,714.9 L1405.4,718.8 L1409.4,722.6 L1413.4,726.3 L1417.4,730.0 L1421.4,733.7 L1425.4,737.2 L1429.4,740.8 L1433.4,744.3 L1437.4,747.8 L1441.4,751.3 L1445.4,754.7 L1449.4,758.3 L1453.4,761.8 L1457.4,765.4 L1461.4,769.1 L1465.4,772.8 L1469.4,776.6 L1473.4,780.4 L1477.4,784.3 L1481.4,788.2 L1485.4,792.1 L1489.4,796.0 L1493.4,799.9 L1497.4,803.9 L1501.4,807.8 L1505.4,811.6 L1509.4,815.5 L1513.4,819.3 L1517.4,823.2 L1521.4,826.9 L1525.4,830.7 L1529.4,834.5 L1533.4,838.2 L1537.4,841.9 L1541.4,845.6 L1545.4,849.2 L1549.4,852.8 L1553.4,856.4 L1557.4,860.0 L1561.4,863.5 L1565.4,867.0 L1569.4,870.5 L1573.4,874.0 L1577.4,877.5 L1581.4,881.0 L1585.4,884.6 L1589.4,888.2 L1593.4,891.9 L1597.4,895.7 L1601.4,899.5 L1605.4,903.5 L1609.4,907.6 L1613.4,911.8 L1617.4,916.2 L1621.4,920.7 L1625.4,925.4 L1629.4,930.1 L1633.4,935.0 L1637.4,939.9 L1641.4,944.9 L1645.4,949.9 L1649.4,954.9 L1653.4,959.9 L1657.4,964.8 L1661.4,969.7 L1665.4,974.4 L1669.4,979.1 L1673.4,983.7 L1677.4,988.2 L1681.4,992.7 L1685.4,997.1 L1689.4,1001.4 L1693.4,1005.7 L1697.4,1009.9 L1701.4,1014.2 L1705.4,1018.3 L1709.4,1022.5 L1713.4,1026.7 L1717.4,1030.8 L1721.4,1034.8 L1725.4,1038.8 L1729.4,1042.8 L1733.4,1046.6 L1737.4,1050.4 L1741.4,1054.1 L1745.4,1057.7 L1749.4,1061.2 L1753.4,1064.6 L1757.4,1067.9 L1761.4,1071.1 L1765.4,1074.3 L1769.4,1077.3 L1773.4,1080.3 L1777.4,1083.3 L1781.4,1086.2 L1785.4,1089.1 L1789.4,1091.9 L1793.4,1094.7 L1797.4,1097.5 L1801.4,1100.4 L1805.4,1103.1 L1809.4,1105.9 L1813.4,1108.7 L1817.4,1111.4 L1821.4,1114.2 L1825.4,1116.9 L1829.4,1119.6 L1833.4,1122.3 L1837.4,1125.0 L1841.4,1127.6 L1845.4,1130.2 L1849.4,1132.9 L1853.4,1135.4 L1857.4,1138.0 L1861.4,1140.5 L1865.4,1143.1 L1869.4,1145.6 L1873.4,1148.1 L1877.4,1150.5 L1881.4,1153.0 L1885.4,1155.5 L1889.4,1158.0 L1893.4,1160.5 L1897.4,1163.0 L1901.4,1165.6 L1905.4,1168.1 L1909.4,1170.7 L1913.4,1173.3 L1917.4,1176.0 L1921.4,1178.7 L1925.4,1181.4 L1929.4,1184.2 L1933.4,1186.9 L1937.4,1189.7 L1941.4,1192.5 L1945.4,1195.3 L1949.4,1198.1 L1953.4,1200.9 L1957.4,1203.7 L1961.4,1206.5 L1965.4,1209.3 L1969.4,1212.1 L1973.4,1214.9 L1977.4,1217.7 L1981.4,1220.5 L1985.4,1223.3 L1989.4,1226.1 L1993.4,1228.9 L1997.4,1231.6 L2001.4,1234.4 L2005.4,1237.1 L2009.4,1239.8 L2013.4,1242.5 L2017.4,1245.2 L2021.4,1247.9 L2025.4,1250.5 L2029.4,1253.2 L2033.4,1255.9 L2037.4,1258.6 L2041.4,1261.4 L2045.4,1264.1 L2049.4,1267.0 L2053.4,1269.9 L2057.4,1272.8 L2061.4,1275.9 L2065.4,1279.0 L2069.4,1282.2 L2073.4,1285.5 L2077.4,1288.9 L2081.4,1292.3 L2085.4,1295.8 L2089.4,1299.4 L2093.4,1303.0 L2097.4,1306.7 L2101.4,1310.4 L2105.4,1314.1 L2109.4,1317.8 L2113.4,1321.6 L2115.8,1323.8"/>
</g>
<g stroke="#000" stroke-width="5" fill="none" stroke-linecap="square">
<rect x="304.5" y="15.0" width="2038.0" height="1507.5" stroke-linejoin="miter"/>
<path d="M304.5,1522.5 V1553.0 M595.6,1522.5 V1553.0 M886.8,1522.5 V1553.0 M1177.9,1522.5 V1553.0 M1469.1,1522.5 V1553.0 M1760.2,1522.5 V1553.0 M2051.4,1522.5 V1553.0 M2342.5,1522.5 V1553.0 M450.1,1522.5 V1538.0 M741.2,1522.5 V1538.0 M1032.4,1522.5 V1538.0 M1323.5,1522.5 V1538.0 M1614.6,1522.5 V1538.0 M1905.8,1522.5 V1538.0 M2196.9,1522.5 V1538.0 M304.5,1440.2 H273.0 M304.5,1108.5 H273.0 M304.5,776.8 H273.0 M304.5,445.1 H273.0 M304.5,113.4 H273.0 M304.5,1274.3 H287.5 M304.5,942.6 H287.5 M304.5,611.0 H287.5 M304.5,279.3 H287.5" stroke-linecap="round"/>
</g>
<text x="250.5" y="128.0" font-size="59" text-anchor="end">40</text>
<text x="250.5" y="459.7" font-size="59" text-anchor="end">20</text>
<text x="250.5" y="791.4" font-size="59" text-anchor="end">0</text>
<text x="250.5" y="1123.1" font-size="59" text-anchor="end">-20</text>
<text x="250.5" y="1454.8" font-size="59" text-anchor="end">-40</text>
<text x="302.5" y="1634.5" font-size="78.5" text-anchor="middle">5</text>
<text x="593.6" y="1634.5" font-size="78.5" text-anchor="middle">6</text>
<text x="884.8" y="1634.5" font-size="78.5" text-anchor="middle">7</text>
<text x="1175.9" y="1634.5" font-size="78.5" text-anchor="middle">8</text>
<text x="1467.1" y="1634.5" font-size="78.5" text-anchor="middle">9</text>
<text x="1758.2" y="1634.5" font-size="78.5" text-anchor="middle">10</text>
<text x="2049.4" y="1634.5" font-size="78.5" text-anchor="middle">11</text>
<text x="2340.5" y="1634.5" font-size="78.5" text-anchor="middle">12</text>
<text x="1291" y="1757.5" font-size="123">pH</text>
<text transform="translate(110.7,1053.7) rotate(-90)" font-size="121.5">zeta / mV</text>
<text x="1605.2" y="178.6" font-size="67.5">0.001 M NaCl</text>
<text x="1605.2" y="259.8" font-size="67.5">brochantite converted</text>
<text x="1605.2" y="343.0" font-size="67.5">into bromide</text>
<text x="1771" y="425.2" font-size="67.5">B014</text>
<text x="1771" y="507.4" font-size="67.5">B015</text>
<text x="1771" y="589.6" font-size="67.5">B008</text>
<text x="1771" y="671.8" font-size="67.5">B004 (partially)</text>
<g fill="#fff" stroke="#000" stroke-width="4.3">
<circle cx="1679.5" cy="401.5" r="26.3"/>
<path d="M1681,447.4 L1713,503.8 L1649,503.8 Z"/>
<path d="M1649,550 L1713,550 L1681,606.4 Z"/>
<rect x="1654.3" y="626.2" width="49" height="49"/>
</g>
</g></svg></body></html>
